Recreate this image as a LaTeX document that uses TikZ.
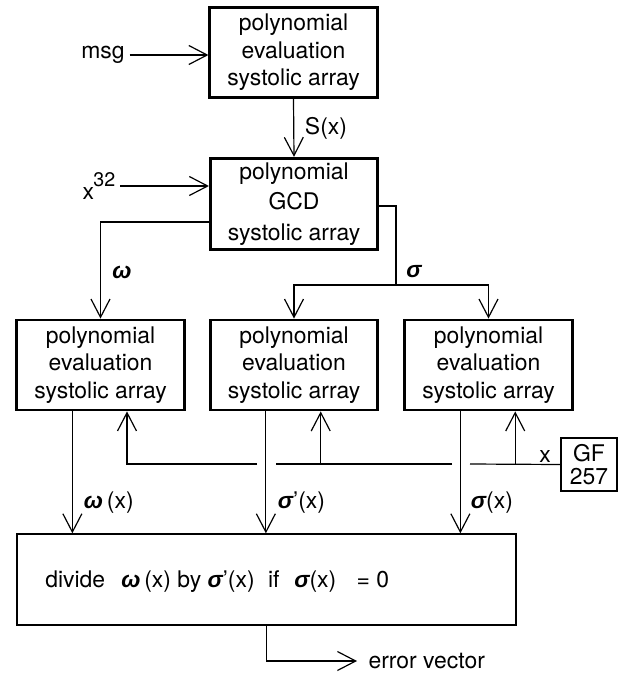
\documentclass[tikz,border=0pt]{standalone}
\usepackage{fontspec}
\setmainfont{TeX Gyre Heros}
\newfontfamily\grkfont{Liberation Sans}
\usetikzlibrary{arrows.meta,calc}
\newcommand{\omg}{{\grkfont\bfseries\itshape ω}}
\newcommand{\sgm}{{\grkfont\bfseries\itshape σ}}

\tikzset{
  array/.style={draw, line width=2pt, minimum width=119pt, minimum height=64pt,
    align=center, font=\fontsize{16.3}{19.5}\selectfont},
  plainbox/.style={draw, line width=1pt, align=center, font=\fontsize{16.3}{16}\selectfont},
  lbl/.style={font=\fontsize{16.3}{18}\selectfont},
  sig/.style={line width=0.85pt, -{Straight Barb[length=13pt,width=13.5pt]}},
  wire/.style={line width=0.85pt}
}

\begin{document}
\begin{tikzpicture}[x=0.025cm,y=-0.025cm]
  \useasboundingbox (0,0) rectangle (620,673);

  % systolic arrays
  \node[array] (enc) at (293.5,52.5) {polynomial\\evaluation\\systolic array};
  \node[array, font=\fontsize{16.3}{21.5}\selectfont] (gcd) at (294,204) {polynomial\\GCD\\systolic array};
  \node[array] (evw) at (100.5,365) {polynomial\\evaluation\\systolic array};
  \node[array] (evd) at (294,365) {polynomial\\evaluation\\systolic array};
  \node[array] (evs) at (488.5,365) {polynomial\\evaluation\\systolic array};

  \node[plainbox, minimum width=40pt, minimum height=37.7pt, inner sep=1pt] (gf) at (589,464.5) {GF\\257};
  \node[plainbox, minimum width=355pt, minimum height=64.7pt] (div) at (266.5,579.5) {};
  \node[lbl, anchor=west, inner sep=0pt] (divtxt) at (45,582)
    {divide\hspace{7pt} \omg\,(x) by \sgm’(x)\hspace{5pt} if\hspace{6pt} \sgm(x)\hspace{10pt} = 0};

  % inputs
  \node[lbl] (msg) at (103,55) {msg};
  \node[lbl] (x32) at (99,186) {x\kern-0.5pt\raisebox{0.6em}{\fontsize{14}{14}\selectfont 32}};
  \draw[sig] (msg) -- (msg -| enc.west);
  \draw[sig] (x32) -- (x32 -| gcd.west);

  \draw[sig] (enc.south) -- (gcd.north);
  \node[lbl, anchor=west] (sx) at (300,128) {S(x)};

  % omega and sigma
  \draw[sig] ([yshift=-12.8pt]gcd.west) -| (evw.north);
  \node[lbl] (wl) at (122,272) {\omg};
  \coordinate (fork) at (396,285);
  \draw[wire] ([yshift=-1.4pt]gcd.east) -| (fork);
  \draw[sig] (fork) -| (evd.north);
  \draw[sig] (fork) -| (evs.north);
  \node[lbl] (sl) at (414,272) {\sgm};

  % evaluated values
  \draw[sig] ([xshift=-20pt]evw.south) -- ([xshift=-20pt]evw.south |- div.north);
  \draw[sig] ([xshift=-20pt]evd.south) -- ([xshift=-20pt]evd.south |- div.north);
  \draw[sig] ([xshift=-20pt]evs.south) -- ([xshift=-20pt]evs.south |- div.north);
  \node[lbl, anchor=west] (wx) at (79,503) {\omg\,(x)};
  \node[lbl, anchor=west] (dx) at (273,503) {\sgm’(x)};
  \node[lbl, anchor=west] (sgx) at (466,503) {\sgm(x)};

  % x bus from GF(257)
  \coordinate (bus1) at (470,464);
  \coordinate (bus2) at (452,464);
  \coordinate (bus3) at (276,464);
  \coordinate (bus4) at (257,464);
  \coordinate (bus5) at (127,464);
  \draw[wire] (gf.west) -- (bus1);
  \draw[wire] (bus2) -- (bus3);
  \draw[sig] (bus4) -- (bus5) -- (evw.south -| bus5);
  \draw[sig] ([xshift=19pt]evd.south |- bus2) -- ([xshift=19pt]evd.south);
  \draw[sig] ([xshift=19pt]evs.south |- bus1) -- ([xshift=19pt]evs.south);
  \node[lbl] (xl) at (545,456) {x};

  % output
  \node[lbl, anchor=west, inner xsep=8pt] (err) at (357,661) {error vector};
  \draw[sig] (div.south) |- (err.west);
\end{tikzpicture}
\end{document}
